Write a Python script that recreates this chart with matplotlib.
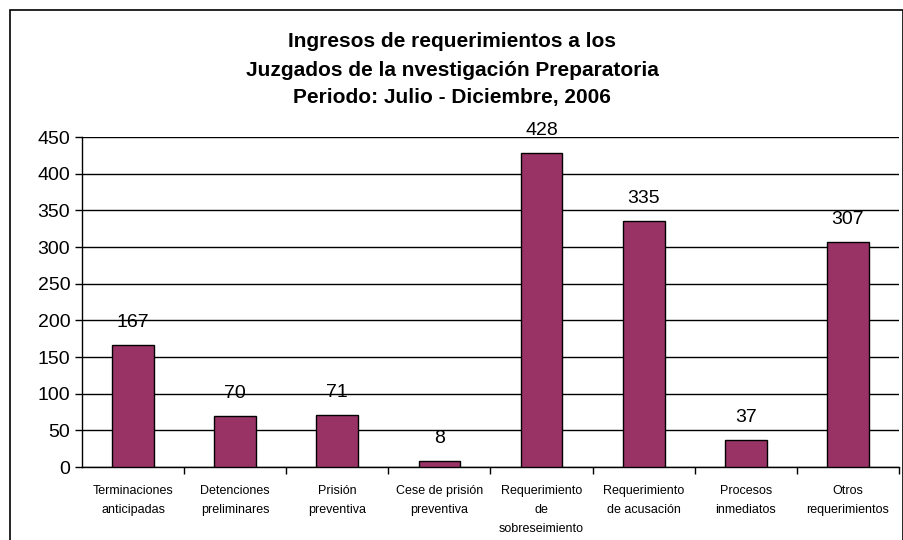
import matplotlib
matplotlib.use("Agg")
import matplotlib.pyplot as plt
from matplotlib.patches import Rectangle

categorias = ["Terminaciones\nanticipadas", "Detenciones\npreliminares", "Prisión\npreventiva",
              "Cese de prisión\npreventiva", "Requerimiento\nde\nsobreseimiento",
              "Requerimiento\nde acusación", "Procesos\ninmediatos", "Otros\nrequerimientos"]
valores = [167, 70, 71, 8, 428, 335, 37, 307]
yticks = [0, 50, 100, 150, 200, 250, 300, 350, 400, 450]

plt.rcParams['font.family'] = ['Liberation Sans', 'DejaVu Sans']

fig = plt.figure(figsize=(9.04, 5.4), dpi=100)
ax = fig.add_axes([82 / 904, 1 - 467 / 540, (899 - 82) / 904, 330 / 540])

x = list(range(len(valores)))
ax.bar(x, valores, width=0.41, color="#993366", edgecolor="black", linewidth=1, zorder=3)
for xi, v in zip(x, valores):
    ax.annotate(str(v), (xi, v), xytext=(0, 10), textcoords="offset points",
                ha="center", va="bottom", fontsize=14)

ax.set_xlim(-0.5, len(valores) - 0.5)
ax.set_ylim(0, 450)
ax.set_yticks(yticks)
ax.tick_params(axis="y", labelsize=14, length=5, direction="out", width=1)
ax.yaxis.grid(True, color="black", linewidth=1, zorder=0)
ax.set_axisbelow(True)

ax.set_xticks(x)
ax.set_xticklabels(categorias, fontsize=9, linespacing=1.75)
ax.tick_params(axis="x", length=0, pad=13)
ax.set_xticks([i - 0.5 for i in range(1, len(valores) + 1)], minor=True)
ax.tick_params(axis="x", which="minor", length=5, width=1, direction="out")

for s in ["top", "right"]:
    ax.spines[s].set_visible(False)
ax.spines["left"].set_linewidth(1)
ax.spines["bottom"].set_linewidth(1)

titulo = ["Ingresos de requerimientos a los",
          "Juzgados de la nvestigación Preparatoria",
          "Periodo: Julio - Diciembre, 2006"]
for i, linea in enumerate(titulo):
    fig.text(0.5, 1 - (42 + 28 * i) / 540, linea, ha="center", va="center",
             fontsize=15, fontweight="bold")

fig.patches.append(Rectangle((10 / 904, -0.1), 893 / 904, 1.1 - 10 / 540, transform=fig.transFigure,
                             fill=False, edgecolor="black", linewidth=1.2))

fig.savefig("out.png", dpi=100)
